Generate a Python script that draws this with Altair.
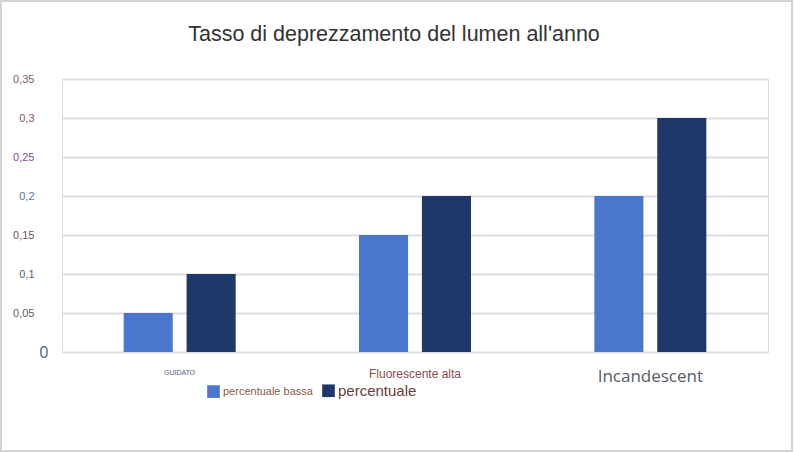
import altair as alt
import pandas as pd

categories = ["GUIDATO", "Fluorescente alta", "Incandescent"]
series = ["percentuale bassa", "percentuale"]
low_values = [0.05, 0.15, 0.2]
high_values = [0.1, 0.2, 0.3]
y_ticks = [0, 0.05, 0.1, 0.15, 0.2, 0.25, 0.3, 0.35]
colors = ["#4a77cd", "#1f386a"]
title_text = "Tasso di deprezzamento del lumen all'anno"

rows = []
for c, lo, hi in zip(categories, low_values, high_values):
    rows.append({"categoria": c, "serie": series[0], "valore": lo})
    rows.append({"categoria": c, "serie": series[1], "valore": hi})
df = pd.DataFrame(rows)

y_color_expr = (
    "datum.value == 0.35 ? '#7a6262' : datum.value == 0.3 ? '#8c5252' : "
    "datum.value == 0.25 ? '#8e4a8e' : datum.value == 0.2 ? '#5a74ae' : "
    "datum.value == 0 ? '#4f5f70' : '#665a5a'"
)
y_label_expr = "replace(format(datum.value, '.2~f'), '.', ',')"

x_size_expr = "datum.value == 'GUIDATO' ? 7 : datum.value == 'Fluorescente alta' ? 12 : 17"
x_color_expr = "datum.value == 'GUIDATO' ? '#55607a' : datum.value == 'Fluorescente alta' ? '#8b4c4c' : '#555a66'"
x_font_expr = "datum.value == 'Incandescent' ? 'Open Sans' : 'Liberation Sans'"

bars = alt.Chart(df).mark_bar().encode(
    x=alt.X(
        "categoria:N",
        sort=categories,
        scale=alt.Scale(paddingInner=0, paddingOuter=0),
        axis=alt.Axis(
            title=None,
            labelAngle=0,
            domain=False,
            ticks=False,
            tickSize=0,
            labelPadding=16,
            labelFontSize=alt.ExprRef(x_size_expr),
            labelColor=alt.ExprRef(x_color_expr),
            labelFont=alt.ExprRef(x_font_expr),
        ),
    ),
    xOffset=alt.XOffset(
        "serie:N",
        sort=series,
        scale=alt.Scale(paddingInner=0.22, paddingOuter=0.98),
    ),
    y=alt.Y(
        "valore:Q",
        scale=alt.Scale(domain=[0, 0.35], nice=False),
        axis=alt.Axis(
            title=None,
            values=y_ticks,
            labelExpr=y_label_expr,
            grid=True,
            gridColor="#dedede",
            gridWidth=2,
            domain=False,
            ticks=False,
            tickSize=0,
            labelPadding=alt.ExprRef("datum.value == 0 ? 14 : 28"),
            labelFontSize=alt.ExprRef("datum.value == 0 ? 16 : 11"),
            labelColor=alt.ExprRef(y_color_expr),
            labelFont=alt.ExprRef("datum.value == 0 ? 'Open Sans' : 'Liberation Sans'"),
        ),
    ),
    color=alt.Color(
        "serie:N",
        sort=series,
        scale=alt.Scale(domain=series, range=colors),
        legend=alt.Legend(
            title=None,
            orient="none",
            legendX=145,
            legendY=305,
            direction="horizontal",
            symbolType="square",
            symbolSize=160,
            symbolStrokeWidth=0,
            symbolOpacity=1,
            columnPadding=9,
            labelOffset=3,
            padding=0,
            labelFont="Liberation Sans",
            labelFontSize=alt.ExprRef("datum.label == 'percentuale' ? 15 : 11"),
            labelColor=alt.ExprRef("datum.label == 'percentuale' ? '#6a3c3c' : '#8e5a48'"),
        ),
    ),
)

frame_df = pd.DataFrame({"k": [0]})
frame = alt.Chart(frame_df).mark_rect(
    fill=None, stroke="#d4d4d4", strokeWidth=2
).encode(
    x=alt.value(-61),
    x2=alt.value(730),
    y=alt.value(-78),
    y2=alt.value(372),
)

chart = alt.layer(bars, frame).properties(
    width=706,
    height=273,
    title=alt.TitleParams(
        title_text,
        font="Liberation Sans",
        fontSize=21.5,
        fontWeight="normal",
        color="#333333",
        anchor="middle",
        dx=-21,
        offset=-45,
    ),
    padding={"left": 62, "top": 79, "right": 26, "bottom": 100},
    autosize=alt.AutoSizeParams(type="none"),
).configure_view(stroke=None).configure(background="white")

chart.save("out.html", embed_options={"renderer": "svg", "actions": False})
